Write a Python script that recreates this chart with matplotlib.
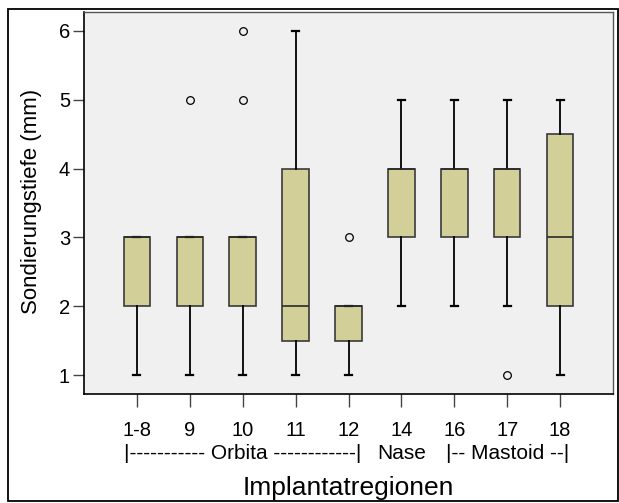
import matplotlib
matplotlib.use('Agg')
import matplotlib.pyplot as plt
from matplotlib.patches import Rectangle
from matplotlib.transforms import blended_transform_factory

plt.rcParams['font.family'] = ['Liberation Sans', 'DejaVu Sans']

# implant regions and their box statistics (mm)
regions = ['1-8', '9', '10', '11', '12', '14', '16', '17', '18']
q1 = [2, 2, 2, 1.5, 1.5, 3, 3, 3, 2]
med = [3, 3, 3, 2, 2, 4, 4, 4, 3]
q3 = [3, 3, 3, 4, 2, 4, 4, 4, 4.5]
whislo = [1, 1, 1, 1, 1, 2, 2, 2, 1]
whishi = [3, 3, 3, 6, 2, 5, 5, 5, 5]
outliers = [[], [5], [5, 6], [], [3], [], [], [1], []]

groups = ['|----------- Orbita ------------|', 'Nase', '|-- Mastoid --|']
group_pos = [2, 5, 7]

stats = []
for i in range(len(regions)):
    stats.append({'med': med[i], 'q1': q1[i], 'q3': q3[i],
                  'whislo': whislo[i], 'whishi': whishi[i],
                  'fliers': outliers[i], 'label': regions[i]})

fig = plt.figure(figsize=(6.19, 5.03), dpi=100)
ax = fig.add_axes([84 / 619, 109 / 503, 529 / 619, 382 / 503])
ax.set_facecolor('#f0f0f0')

positions = list(range(len(regions)))
ax.bxp(stats, positions=positions, widths=0.5, patch_artist=True,
       boxprops=dict(facecolor='#d3cf98', edgecolor='#3a3a3a', linewidth=1.2),
       medianprops=dict(color='#2a2a2a', linewidth=1.2),
       whiskerprops=dict(color='black', linewidth=1.3),
       capprops=dict(color='black', linewidth=1.6),
       capwidths=0.13,
       flierprops=dict(marker='o', markersize=5.5, markerfacecolor='none',
                       markeredgecolor='black', markeredgewidth=0.9))

ax.set_xlim(-1, 9)
ax.set_ylim(0.724, 6.276)
ax.set_yticks([1, 2, 3, 4, 5, 6])
ax.set_xticks(positions)
ax.set_xticklabels(regions)
ax.tick_params(axis='y', length=8, width=1, color='#444444', pad=2, labelsize=14.5)
ax.tick_params(axis='x', length=9.5, width=1, color='#444444', pad=10, labelsize=14.5)

for side in ['left', 'bottom']:
    ax.spines[side].set_color('black')
    ax.spines[side].set_linewidth(1.2)
for side in ['top', 'right']:
    ax.spines[side].set_color('#555555')
    ax.spines[side].set_linewidth(1)

trans = blended_transform_factory(ax.transData, fig.transFigure)
for g, p in zip(groups, group_pos):
    ax.text(p, 44 / 503, g, transform=trans, ha='center', va='baseline', fontsize=15)

ax.set_ylabel('Sondierungstiefe (mm)', fontsize=16)
ax.yaxis.set_label_coords(-0.079, 0.505)
fig.text(348 / 619, 8 / 503, 'Implantatregionen', ha='center', va='baseline', fontsize=19)

# frame around the whole figure
fig.patches.append(Rectangle((8 / 619, 2 / 503), 610 / 619, 492 / 503,
                             transform=fig.transFigure, fill=False,
                             edgecolor='black', linewidth=1.3))

fig.savefig('out.png', dpi=100)
